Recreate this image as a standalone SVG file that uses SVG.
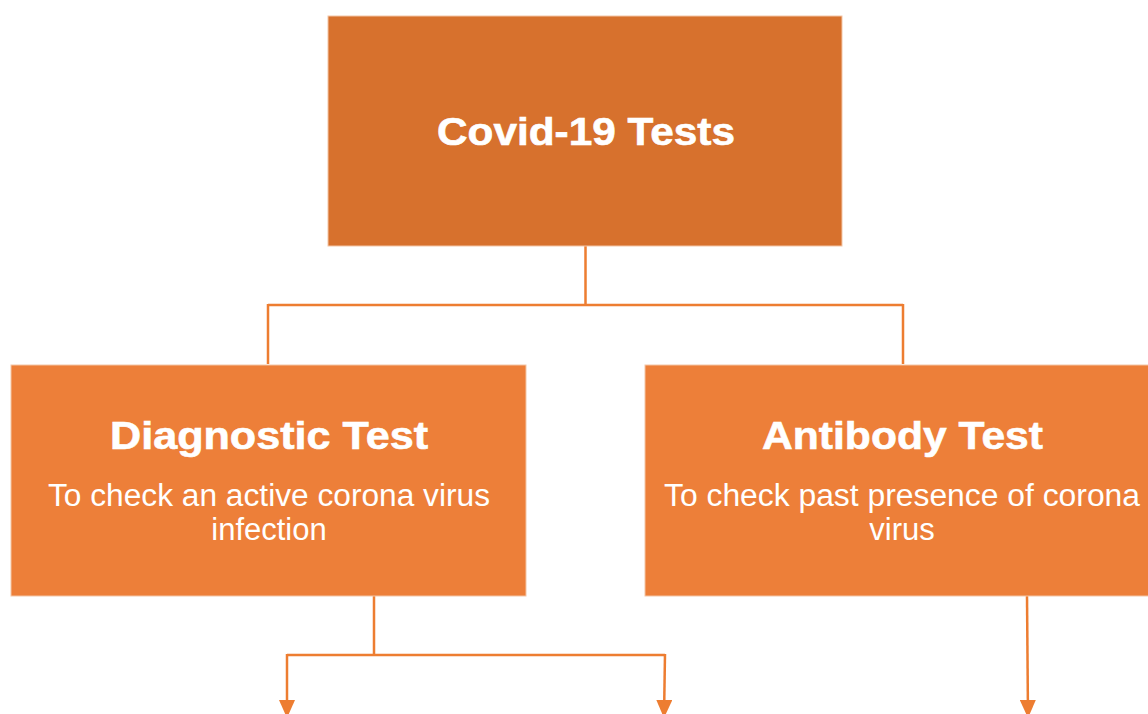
<svg xmlns="http://www.w3.org/2000/svg" width="1148" height="714" viewBox="0 0 1148 714">
<style>
.box{stroke:#f3c6a6;stroke-width:1}
.top{fill:#D7712D}
.sub{fill:#ED7F39}
.title{font-family:"Liberation Sans",Arial,sans-serif;font-weight:bold;font-size:39px;fill:#fff;text-anchor:middle;stroke:#fff;stroke-width:0.6}
.body{font-family:"Liberation Sans",Arial,sans-serif;font-size:31px;fill:#fff;text-anchor:middle}
.conn{fill:none;stroke:#ED7D31;stroke-width:2.5}
</style>
<defs>
<marker id="arr" markerUnits="userSpaceOnUse" markerWidth="18" markerHeight="16" refX="17" refY="8" orient="auto" viewBox="0 0 18 16">
<path d="M0,0 L18,8 L0,16 Z" fill="#ED7D31"/>
</marker>
</defs>
<rect width="1148" height="714" fill="#fff"/>
<g id="connectors">
<path class="conn" d="M585.5,246 V305 M268,305 H903 M268,304 V364 M903,304 V364"/>
<path class="conn" d="M374,596 V655 M287,655 H665"/>
<line class="conn" x1="287" y1="654" x2="287" y2="717" marker-end="url(#arr)"/>
<line class="conn" x1="665" y1="654" x2="664" y2="717" marker-end="url(#arr)"/>
<line class="conn" x1="1027" y1="596" x2="1028" y2="717" marker-end="url(#arr)"/>
</g>
<g id="covid19-tests">
<rect class="box top" x="328" y="16" width="514" height="230"/>
<text class="title" x="586" y="145" textLength="298" lengthAdjust="spacingAndGlyphs">Covid-19 Tests</text>
</g>
<g id="diagnostic-test">
<rect class="box sub" x="11" y="365" width="515" height="231"/>
<text class="title" x="269" y="449" textLength="318" lengthAdjust="spacingAndGlyphs">Diagnostic Test</text>
<text class="body" x="269" y="506" textLength="442" lengthAdjust="spacingAndGlyphs">To check an active corona virus</text>
<text class="body" x="269" y="540">infection</text>
</g>
<g id="antibody-test">
<rect class="box sub" x="645" y="365" width="520" height="231"/>
<text class="title" x="902.5" y="449" textLength="281" lengthAdjust="spacingAndGlyphs">Antibody Test</text>
<text class="body" x="902" y="506" textLength="476" lengthAdjust="spacingAndGlyphs">To check past presence of corona</text>
<text class="body" x="902" y="540">virus</text>
</g>
</svg>
